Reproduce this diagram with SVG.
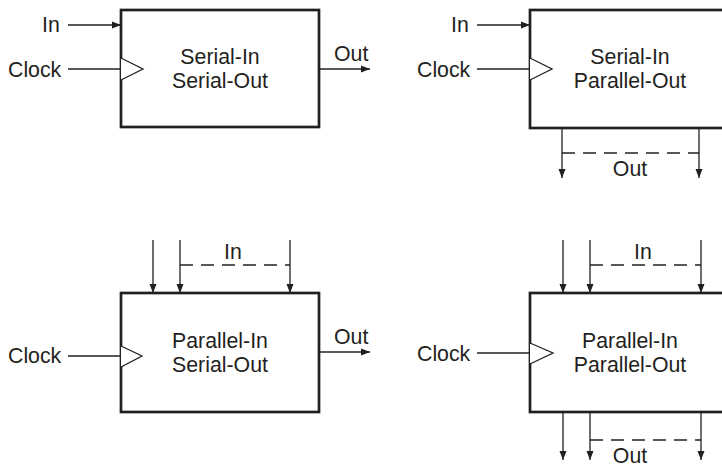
<svg xmlns="http://www.w3.org/2000/svg" width="722" height="468" viewBox="0 0 722 468">
<defs>
<style>
.box{fill:#fff;stroke:#231f20;stroke-width:2.7}
.ln{fill:none;stroke:#231f20;stroke-width:1.3}
.dash{fill:none;stroke:#231f20;stroke-width:1.3;stroke-dasharray:13 8}
.clk{fill:#fff;stroke:#231f20;stroke-width:1.3}
text{font-family:"Liberation Sans",Arial,sans-serif;font-size:21.3px;fill:#231f20}
.c{text-anchor:middle}
.r{text-anchor:end}
</style>
<marker id="ah" markerUnits="userSpaceOnUse" markerWidth="10" markerHeight="8" refX="9" refY="4" orient="auto">
<path d="M0,0.5 L9,4 L0,7.5 Z" fill="#231f20"/>
</marker>
</defs>
<g id="sisoNode">
<rect class="box" x="121" y="10" width="198" height="117"/>
<path class="clk" d="M121,58 L143,69 L121,80"/>
<text class="c" x="220" y="64">Serial-In</text>
<text class="c" x="220" y="88">Serial-Out</text>
</g>
<g id="sipoNode">
<rect class="box" x="530" y="10" width="200" height="118"/>
<path class="clk" d="M530,58 L552,69 L530,80"/>
<text class="c" x="630" y="64">Serial-In</text>
<text class="c" x="630" y="88">Parallel-Out</text>
</g>
<g id="pisoNode">
<rect class="box" x="121" y="293" width="198" height="119"/>
<path class="clk" d="M121,346 L142,356 L121,367"/>
<text class="c" x="220" y="348">Parallel-In</text>
<text class="c" x="220" y="372">Serial-Out</text>
</g>
<g id="pipoNode">
<rect class="box" x="530" y="293" width="200" height="119"/>
<path class="clk" d="M530,343 L553,353 L530,364"/>
<text class="c" x="630" y="348">Parallel-In</text>
<text class="c" x="630" y="372">Parallel-Out</text>
</g>
<g id="connectors">
<line class="ln" x1="68" y1="25" x2="121" y2="25" marker-end="url(#ah)"/>
<line class="ln" x1="68" y1="69" x2="121" y2="69"/>
<line class="ln" x1="319" y1="69" x2="370" y2="69" marker-end="url(#ah)"/>
<line class="ln" x1="477" y1="25" x2="530" y2="25" marker-end="url(#ah)"/>
<line class="ln" x1="477" y1="69" x2="530" y2="69"/>
<line class="ln" x1="562" y1="128" x2="562" y2="178" marker-end="url(#ah)"/>
<line class="ln" x1="699" y1="128" x2="699" y2="178" marker-end="url(#ah)"/>
<line class="dash" x1="562" y1="153" x2="699" y2="153"/>
<line class="ln" x1="153" y1="240" x2="153" y2="293" marker-end="url(#ah)"/>
<line class="ln" x1="180" y1="240" x2="180" y2="293" marker-end="url(#ah)"/>
<line class="ln" x1="290" y1="240" x2="290" y2="293" marker-end="url(#ah)"/>
<line class="dash" x1="180" y1="265" x2="290" y2="265"/>
<line class="ln" x1="68" y1="356" x2="121" y2="356"/>
<line class="ln" x1="319" y1="352" x2="370" y2="352" marker-end="url(#ah)"/>
<line class="ln" x1="563" y1="240" x2="563" y2="293" marker-end="url(#ah)"/>
<line class="ln" x1="590" y1="240" x2="590" y2="293" marker-end="url(#ah)"/>
<line class="ln" x1="701" y1="240" x2="701" y2="293" marker-end="url(#ah)"/>
<line class="dash" x1="590" y1="265" x2="701" y2="265"/>
<line class="ln" x1="477" y1="353" x2="530" y2="353"/>
<line class="ln" x1="563" y1="412" x2="563" y2="460" marker-end="url(#ah)"/>
<line class="ln" x1="590" y1="412" x2="590" y2="460" marker-end="url(#ah)"/>
<line class="ln" x1="701" y1="412" x2="701" y2="460" marker-end="url(#ah)"/>
<line class="dash" x1="590" y1="440" x2="701" y2="440"/>
</g>
<g id="labels">
<text x="42" y="32">In</text>
<text x="8" y="77">Clock</text>
<text x="334" y="61">Out</text>
<text x="451" y="32">In</text>
<text x="417" y="77">Clock</text>
<text class="c" x="630" y="176">Out</text>
<text class="c" x="233" y="259">In</text>
<text x="8" y="363">Clock</text>
<text x="334" y="344">Out</text>
<text class="c" x="643" y="259">In</text>
<text x="417" y="361">Clock</text>
<text class="c" x="630" y="463">Out</text>
</g>
</svg>
